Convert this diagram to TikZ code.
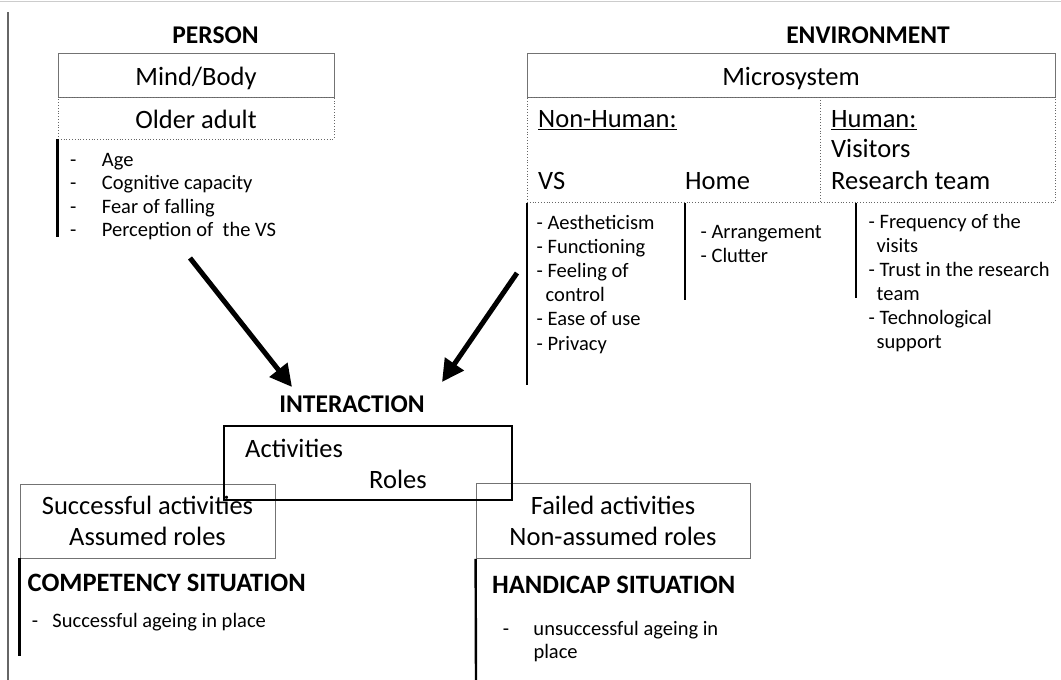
\documentclass[tikz,border=0pt]{standalone}
\usepackage{fontspec}
\setmainfont{Carlito}
\usetikzlibrary{arrows.meta}
\newcommand{\itemtop}{\rule{0pt}{16pt}}
\tikzset{
  box/.style={draw=black!55, line width=0.8pt, inner sep=0pt, minimum height=44pt, align=center, font=\fontsize{26.5}{31}\selectfont},
  onebox/.style={box, text height=20pt, text depth=0pt},
  dotbox/.style={onebox, dotted, draw=black!60},
  heading/.style={anchor=base, inner sep=0pt, font=\fontsize{25.5}{28}\selectfont\bfseries},
  situation/.style={heading, anchor=base west, font=\fontsize{26.5}{29}\selectfont\bfseries},
  lbl/.style={anchor=base west, inner sep=0pt, font=\fontsize{26.5}{31}\selectfont},
  item/.style={anchor=north west, inner sep=0pt, align=left, font=\fontsize{20.5}{24}\selectfont},
  bar/.style={line width=2.4pt},
  bigarrow/.style={line width=5pt, -{Triangle[length=22pt,width=22pt]}},
}
\begin{document}
\begin{tikzpicture}[x=1pt,y=-1pt]
\useasboundingbox (0,0) rectangle (1061,680);
\fill[white] (0,0) rectangle (1061,680);
\draw[black!20] (0,1) -- (1061,1);
\draw[black!60, line width=1.3pt] (8,12) -- (8,680);
\node[heading] (person) at (215.5,43.3) {PERSON};
\node[onebox, minimum width=276pt] (mind) at (196,75) {Mind/Body};
\node[dotbox, minimum width=276pt, minimum height=42pt] (older) at (196,118) {Older adult};
\draw[bar] (older.south west) -- ++(0,98);
\node[item, font=\fontsize{20.5}{23.5}\selectfont] (personlist) at (70,150) {\itemtop\makebox[31.7pt][l]{-}Age\\\makebox[31.7pt][l]{-}Cognitive capacity\\\makebox[31.7pt][l]{-}Fear of falling\\\makebox[31.7pt][l]{-}Perception of\ \ the VS};
\node[heading] (env) at (868,43.3) {ENVIRONMENT};
\node[onebox, minimum width=528pt] (micro) at (791,75) {Microsystem};
\node[dotbox, minimum width=528pt, minimum height=105pt] (sub) at (791,149.5) {};
\draw[dotted, black!60, line width=0.8pt] (820,97) -- (820,202);
\node[lbl] (nonhuman) at (538,127.7) {\underline{Non-Human:}};
\node[lbl] (human) at (831,127.7) {\underline{Human:}};
\node[lbl] (visitors) at (831,157.7) {Visitors};
\node[lbl] (vs) at (538,189.3) {VS};
\node[lbl] (home) at (685,189.3) {Home};
\node[lbl] (team) at (831,189.3) {Research team};
\draw[bar] (527,203) -- (527,385);
\draw[bar] (685,203) -- (685,300);
\draw[bar] (856,203) -- (856,298);
\node[item, font=\fontsize{20.5}{24.1}\selectfont] (vslist) at (536.5,213.3) {\itemtop- Aestheticism\\- Functioning\\- Feeling of\\\hspace{9pt}control\\- Ease of use\\- Privacy};
\node[item] (homelist) at (700.5,222.3) {\itemtop- Arrangement\\- Clutter};
\node[item] (teamlist) at (868.5,212.3) {\itemtop- Frequency of the\\\hspace{8pt}visits\\- Trust in the research\\\hspace{8pt}team\\- Technological\\\hspace{8pt}support};
\coordinate (pfrom) at (190,258);
\coordinate (pto) at (292,387);
\coordinate (efrom) at (517,273);
\coordinate (eto) at (442,382);
\draw[bigarrow] (pfrom) -- (pto);
\draw[bigarrow] (efrom) -- (eto);
\node[heading] (inter) at (352,412.7) {INTERACTION};
\node[box, minimum width=255pt, minimum height=74pt] (success) at (147.5,521) {Successful activities\\Assumed roles};
\node[box, minimum width=274pt, minimum height=75pt] (failed) at (613,521) {Failed activities\\Non-assumed roles};
\node[draw, line width=2.4pt, minimum width=288pt, minimum height=74pt] (interbox) at (368,463) {};
\node[lbl] (activities) at (245,457.3) {Activities};
\node[lbl] (roles) at (369,488.3) {Roles};
\draw[bar] (success.south west) -- ++(0,98);
\draw[bar] (failed.south west) -- (476,680);
\node[situation] (competency) at (27.5,591) {COMPETENCY SITUATION};
\node[item] (competencylist) at (31.7,611.7) {\itemtop\makebox[20.6pt][l]{-}Successful ageing in place};
\node[situation] (handicap) at (492,593) {HANDICAP SITUATION};
\node[item, font=\fontsize{20.5}{23}\selectfont] (handicaplist) at (502.7,619) {\itemtop\makebox[30.6pt][l]{-}unsuccessful ageing in\\\hspace{30.6pt}place};
\end{tikzpicture}
\end{document}
